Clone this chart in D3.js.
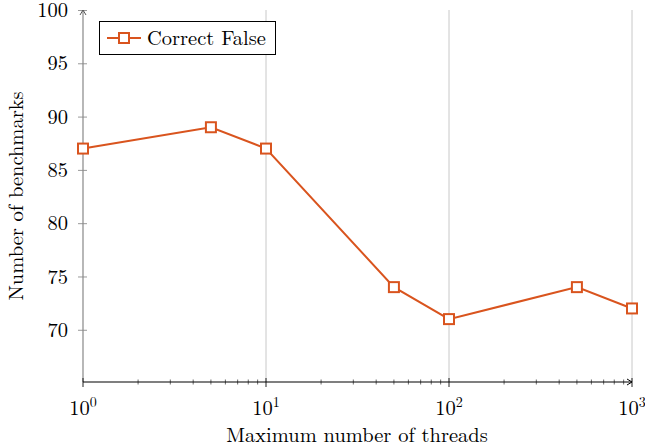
<!DOCTYPE html>
<html><head><meta charset="utf-8">
<script src="https://cdn.jsdelivr.net/npm/d3@7"></script>
<style>body{margin:0;background:#fff}svg{display:block}</style>
</head><body><svg id="c" width="645" height="448"></svg>
<script>
const threads = [1, 5, 10, 50, 100, 500, 1000];
const benchmarks = [87, 89, 87, 74, 71, 74, 72];
const yTicks = [70, 75, 80, 85, 90, 95, 100];
const xMajor = [1, 10, 100, 1000];
const seriesName = "Correct False";
const color = "#d9541e";
const FONT = "'Latin Modern Roman', 'Liberation Serif', serif";
const FS = "20.5px";

const svg = d3.select("#c");
const x = d3.scaleLog().domain([1, 1000]).range([83, 632]);
const y = d3.scaleLinear().domain([65.1, 100]).range([382, 10]);

// grid
svg.append("g").selectAll("line").data(xMajor.slice(1)).join("line")
  .attr("x1", d => x(d)).attr("x2", d => x(d)).attr("y1", y(100)).attr("y2", y(65.1))
  .attr("stroke", "#c8c8c8").attr("stroke-width", 1);

// y axis
const ya = svg.append("g").attr("transform", `translate(${x(1)},0)`)
  .call(d3.axisLeft(y).tickValues(yTicks).tickSize(5).tickSizeOuter(0).tickPadding(10));
ya.attr("font-family", null).attr("font-size", null);
ya.select(".domain").remove();
ya.selectAll(".tick line").attr("stroke", "#999").attr("x2", 4).attr("x1", -5);
ya.selectAll(".tick text").style("font-family", FONT).style("font-size", FS).attr("fill", "#000");
svg.append("line").attr("x1", x(1)).attr("x2", x(1)).attr("y1", y(65.1)).attr("y2", y(100))
  .attr("stroke", "#888").attr("stroke-width", 1.2);
svg.append("path").attr("d", `M${x(1)-3},${y(100)+5} L${x(1)},${y(100)} L${x(1)+3},${y(100)+5}`)
  .attr("fill", "none").attr("stroke", "#555").attr("stroke-width", 1);

// x axis
const minor = [];
for (let e = 0; e < 3; e++) for (let k = 2; k <= 9; k++) minor.push(k * Math.pow(10, e));
svg.append("g").selectAll("line").data(minor).join("line")
  .attr("x1", d => x(d)).attr("x2", d => x(d)).attr("y1", y(65.1) - 2.5).attr("y2", y(65.1) + 2.5)
  .attr("stroke", "#444").attr("stroke-width", 0.8);
svg.append("g").selectAll("line").data(xMajor).join("line")
  .attr("x1", d => x(d)).attr("x2", d => x(d)).attr("y1", y(65.1) - 4).attr("y2", y(65.1) + 5)
  .attr("stroke", "#222").attr("stroke-width", 1);
svg.append("line").attr("x1", x(1)).attr("x2", x(1000)).attr("y1", y(65.1)).attr("y2", y(65.1))
  .attr("stroke", "#000").attr("stroke-width", 1.2);
svg.append("path").attr("d", `M${x(1000)-5},${y(65.1)-3} L${x(1000)},${y(65.1)} L${x(1000)-5},${y(65.1)+3}`)
  .attr("fill", "none").attr("stroke", "#000").attr("stroke-width", 1);

const xl = svg.append("g").selectAll("text").data(xMajor).join("text")
  .attr("x", d => x(d)).attr("y", 415).attr("text-anchor", "middle")
  .style("font-family", FONT).style("font-size", FS);
xl.append("tspan").text("10");
xl.append("tspan").style("font-size", "14px").attr("dy", -8).text(d => Math.round(Math.log10(d)));

// titles
svg.append("text").attr("x", 357).attr("y", 442).attr("text-anchor", "middle")
  .style("font-family", FONT).style("font-size", FS)
  .text("Maximum number of threads");
svg.append("text").attr("transform", "translate(23,196) rotate(-90)").attr("text-anchor", "middle")
  .style("font-family", FONT).style("font-size", FS).text("Number of benchmarks");

// line
const pts = threads.map((t, i) => [t, benchmarks[i]]);
svg.append("path").datum(pts)
  .attr("d", d3.line().x(d => x(d[0])).y(d => y(d[1])))
  .attr("fill", "none").attr("stroke", color).attr("stroke-width", 2);
svg.append("g").selectAll("rect").data(pts).join("rect")
  .attr("x", d => x(d[0]) - 5).attr("y", d => y(d[1]) - 5).attr("width", 10).attr("height", 10)
  .attr("fill", "#fff").attr("stroke", color).attr("stroke-width", 2);

// legend
const lg = svg.append("g");
lg.append("rect").attr("x", 99.5).attr("y", 21.5).attr("width", 176).attr("height", 33)
  .attr("fill", "#fff").attr("stroke", "#000").attr("stroke-width", 1);
lg.append("line").attr("x1", 107).attr("x2", 141).attr("y1", 38).attr("y2", 38)
  .attr("stroke", color).attr("stroke-width", 2);
lg.append("rect").attr("x", 119).attr("y", 33).attr("width", 10).attr("height", 10)
  .attr("fill", "#fff").attr("stroke", color).attr("stroke-width", 2);
lg.append("text").attr("x", 147).attr("y", 45)
  .style("font-family", FONT).style("font-size", FS).text(seriesName);
</script></body></html>
